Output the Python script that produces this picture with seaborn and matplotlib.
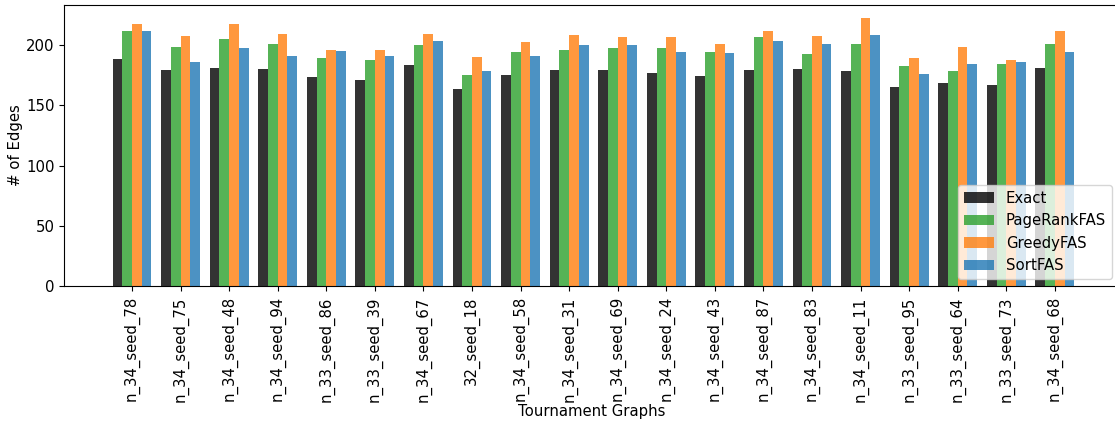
import matplotlib
matplotlib.use("Agg")
import matplotlib.pyplot as plt
import pandas as pd
import seaborn as sns

# Tournament graphs on the x axis
graphs = [
    "n_34_seed_78", "n_34_seed_75", "n_34_seed_48", "n_34_seed_94", "n_33_seed_86",
    "n_33_seed_39", "n_34_seed_67", "32_seed_18", "n_34_seed_58", "n_34_seed_31",
    "n_34_seed_69", "n_34_seed_24", "n_34_seed_43", "n_34_seed_87", "n_34_seed_83",
    "n_34_seed_11", "n_33_seed_95", "n_33_seed_64", "n_33_seed_73", "n_34_seed_68",
]

# Number of edges removed by each method
exact = [188, 179, 181, 180, 173, 171, 183, 163, 175, 179,
         179, 177, 174, 179, 180, 178, 165, 168, 167, 181]
pagerank_fas = [211, 198, 205, 201, 189, 187, 200, 175, 194, 196,
                197, 197, 194, 206, 192, 201, 182, 178, 184, 201]
greedy_fas = [217, 207, 217, 209, 196, 196, 209, 190, 202, 208,
              206, 206, 201, 211, 207, 222, 189, 198, 187, 211]
sort_fas = [211, 186, 197, 191, 195, 191, 203, 178, 191, 200,
            200, 194, 193, 203, 201, 208, 176, 184, 186, 194]

methods = ["Exact", "PageRankFAS", "GreedyFAS", "SortFAS"]
colors = ["black", "tab:green", "tab:orange", "tab:blue"]

series = [exact, pagerank_fas, greedy_fas, sort_fas]
df = pd.DataFrame(
    [
        {"graph": g, "method": m, "edges": v}
        for m, vals in zip(methods, series)
        for g, v in zip(graphs, vals)
    ]
)

plt.rcParams["font.size"] = 10.7

fig = plt.figure(figsize=(11.15, 4.24), dpi=100)
ax = fig.add_axes([0.0578, 0.3243, 0.9462, 0.6646])

sns.barplot(
    data=df, x="graph", y="edges", hue="method",
    order=graphs, hue_order=methods, palette=colors,
    saturation=1, alpha=0.8, width=0.8, legend=False, ax=ax,
)

ax.set_xlim(-1.39, 20.33)
ax.set_ylim(0, 222 * 1.05)
ax.set_yticks([0, 50, 100, 150, 200])
ax.tick_params(axis="x", labelrotation=90)
ax.set_xlabel("Tournament Graphs", labelpad=1.5)
ax.set_ylabel("# of Edges", labelpad=2.5)

ax.legend(ax.containers, methods, loc="lower right")

fig.savefig("out.png", dpi=100)
